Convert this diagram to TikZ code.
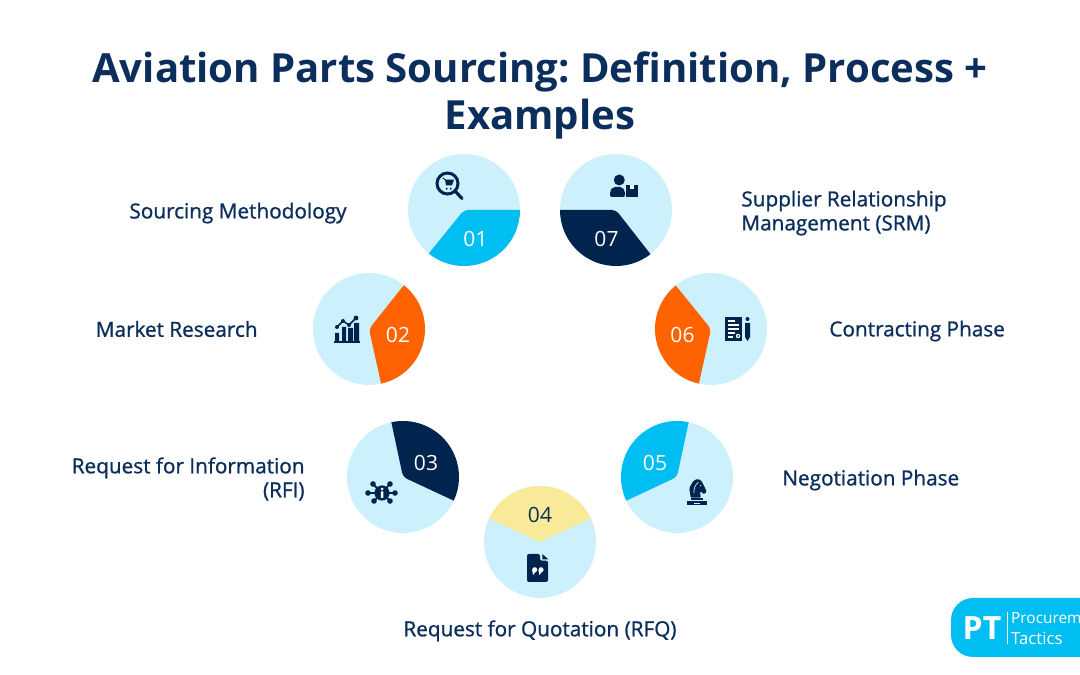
\documentclass[tikz,border=0pt]{standalone}
\usepackage{fontspec}
\setmainfont{Open Sans}
\newfontfamily\labelfont{Open Sans}[FakeBold=1]
\usetikzlibrary{positioning, calc}

\definecolor{navy}{HTML}{00244D}
\definecolor{titleblue}{HTML}{0B2E5C}
\definecolor{paleblue}{HTML}{CCF1FC}
\definecolor{skyblue}{HTML}{00BDF2}
\definecolor{orangepie}{HTML}{FF6200}
\definecolor{yellowpie}{HTML}{F9EA9A}

\tikzset{
    disc/.style={circle, fill=paleblue, inner sep=0, minimum size=112pt},
    stage/.style={font=\labelfont\fontsize{20.75}{24}\selectfont, text=titleblue, inner sep=0},
    num/.style={font=\fontsize{21}{24}\selectfont, text=white, inner sep=0},
}

\begin{document}
\begin{tikzpicture}[x=1pt, y=1pt]
    \useasboundingbox[clip] (0,0) rectangle (1080,675);
    \fill[white] (0,0) rectangle (1080,675);

    \node (title) at (540,580) [align=center, inner sep=0, text=titleblue, font=\bfseries\frenchspacing\fontsize{40.1}{47}\selectfont] {Aviation Parts Sourcing: Definition, Process +\\Examples};

    \node (one) at (464,465) [disc] {};
    \node (two) at (369,346) [disc] {};
    \node (three) at (403,198) [disc] {};
    \node (four) at (540,133) [disc] {};
    \node (five) at (677,198) [disc] {};
    \node (six) at (711,346) [disc] {};
    \node (seven) at (616,465) [disc] {};

    % pie slices
    \fill[skyblue] (one.center) ++(231:56) [rounded corners=4] -- (one.center) [sharp corners] -- ++(0:56) arc[start angle=0, end angle=-129, radius=56] -- cycle;
    \fill[orangepie] (two.center) ++(51.5:56) [rounded corners=4] -- (two.center) [sharp corners] -- ++(-77.5:56) arc[start angle=-77.5, end angle=51.5, radius=56] -- cycle;
    \fill[navy] (three.center) ++(102:56) [rounded corners=4] -- (three.center) [sharp corners] -- ++(-25:56) arc[start angle=-25, end angle=102, radius=56] -- cycle;
    \fill[yellowpie] (four.center) ++(155:56) -- (four.center) -- ++(25:56) arc[start angle=25, end angle=155, radius=56] -- cycle;
    \fill[skyblue] (five.center) ++(205:56) [rounded corners=4] -- (five.center) [sharp corners] -- ++(78:56) arc[start angle=78, end angle=205, radius=56] -- cycle;
    \fill[orangepie] (six.center) ++(257.5:56) [rounded corners=4] -- (six.center) [sharp corners] -- ++(129:56) arc[start angle=129, end angle=257.5, radius=56] -- cycle;
    \fill[navy] (seven.center) ++(308:56) [rounded corners=4] -- (seven.center) [sharp corners] -- ++(180:56) arc[start angle=180, end angle=308, radius=56] -- cycle;

    \node (num1) at (475.5,436) [num] {01};
    \node (num2) at (398,340) [num] {02};
    \node (num3) at (426,212.5) [num] {03};
    \node (num4) at (540,160) [num, text=titleblue] {04};
    \node (num5) at (655,212.5) [num] {05};
    \node (num6) at (682.5,340) [num] {06};
    \node (num7) at (606.5,436) [num] {07};

    \node (sourcing) [stage, left=61pt of one, yshift=-3pt] {Sourcing Methodology};
    \node (market) [stage, left=55pt of two] {Market Research};
    \node (rfi) [stage, left=42pt of three, align=right, yshift=-2pt] {Request for Information\\(RFI)};
    \node (rfq) [stage, below=22pt of four] {Request for Quotation (RFQ)};
    \node (negotiation) [stage, right=49pt of five, yshift=-3pt] {Negotiation Phase};
    \node (contracting) [stage, right=62pt of six, yshift=-2pt] {Contracting Phase};
    \node (srm) [stage, right=69pt of seven, align=left, yshift=-3pt] {Supplier Relationship\\Management (SRM)};

    % icon 01: lens and cart
    \draw[navy, line width=3] (447.5,491.5) circle (10.5);
    \draw[navy, line width=3.2, line cap=round] (455.5,483.5) -- (462,476.5);
    \fill[navy] (445,495.3) -- (454,495.3) -- (452,489.7) -- (446,489.7) -- cycle;
    \draw[navy, line width=1] (442.7,497) -- (445.5,495.3);
    \fill[navy] (446.7,486.3) circle (1.1) (450.7,486.3) circle (1.1);

    % icon 02: chart
    \fill[navy] (334,332) rectangle (360,334);
    \fill[navy] (335,334) rectangle (339,342) (342,334) rectangle (346,348) (348,334) rectangle (353,347) (354,334) rectangle (359,352);
    \draw[navy, line width=1.5] (337,348) -- (343,354) -- (349,350) -- (356,357);
    \fill[navy] (337,348) circle (2) (343,354) circle (2) (349,350) circle (2) (356,357) circle (2.4);

    % icon 03: network with i
    \draw[navy, line width=1.8] (368,182) -- (395,182) (373,191) -- (390,174) (390,191) -- (374,174);
    \fill[navy] (382,182) circle (7.6);
    \fill[navy] (368,182) circle (2.8) (395,182) circle (2.8) (373,191) circle (2.8) (390,191) circle (2.8) (374,174) circle (2.8) (390,174) circle (2.8);
    \fill[white] (380.8,177) rectangle (383.4,183.5) (382.1,186) circle (1.4);

    % icon 04: file with quote marks
    \fill[navy, rounded corners=2] (527,93) -- (548,93) -- (548,114.3) -- (540,114.3) -- (540,121) -- (527,121) -- cycle;
    \fill[navy] (542.3,121) -- (548.3,115.7) -- (542.3,115.7) -- cycle;
    \fill[white] (534.7,105.3) circle (2.5) (541,105.3) circle (2.5);
    \fill[white] (532.2,105) -- (537.2,105) -- (533,100) -- cycle (538.5,105) -- (543.5,105) -- (539.3,100) -- cycle;

    % icon 05: knight
    \fill[navy] (687,170) rectangle (707,174.3);
    \fill[paleblue] (694,171) rectangle (700,172);
    \fill[navy] (691,175) rectangle (703,177.3);
    \fill[navy, rounded corners=1] (690.7,177.3) -- (689.3,186.7) -- (692.7,193.3) -- (696.7,196) -- (700.7,195) -- (703.3,190.7) -- (706.7,183.3) -- (704,180.7) -- (700,184) -- (700.7,177.3) -- cycle;
    \draw[paleblue, line width=0.7] (694,181.7) .. controls (693.5,186) and (695,190) .. (698.3,192.7);
    \fill[paleblue] (700.7,189.3) circle (0.7);

    % icon 06: document and pen
    \fill[navy] (725,334) rectangle (742,358);
    \draw[white, line width=1.1] (728,354) -- (735,354) (728,350) -- (739,350) (728,346) -- (739,346) (728,342) -- (735,342) (728,338) -- (733,338);
    \fill[white] (738,339) circle (2.2);
    \fill[navy] (738,339) circle (1);
    \fill[navy] (747.5,356) circle (2);
    \fill[navy] (745,352) -- (750,352) -- (750,338) -- (747.5,334) -- (745,338) -- cycle;

    % icon 07: person and box
    \fill[navy] (619.3,495) circle (5.5);
    \fill[navy, rounded corners=2] (610,478) -- (625,478) -- (625,484) -- (622,488) -- (613,488) -- (610,484) -- cycle;
    \fill[navy] (626,478) rectangle (638,490);
    \fill[white] (630,486) rectangle (634,490);

    % logo
    \fill[skyblue] (1080,77) [rounded corners=22] -- (951,77) -- (951,18) [sharp corners] -- (1080,18) -- cycle;
    \node (pt) at (982,47) [text=white, inner sep=0, font=\bfseries\fontsize{32}{32}\selectfont] {PT};
    \draw[white, line width=0.7] (pt.east) ++(6,-16) -- ++(0,32);
    \node (proc) at (1011,57) [anchor=west, text=white, inner sep=0, font=\fontsize{15.4}{16}\selectfont] {Procurem};
    \node (tactics) at (1011,37) [anchor=west, text=white, inner sep=0, font=\fontsize{16.8}{16}\selectfont] {Tactics};
\end{tikzpicture}
\end{document}
